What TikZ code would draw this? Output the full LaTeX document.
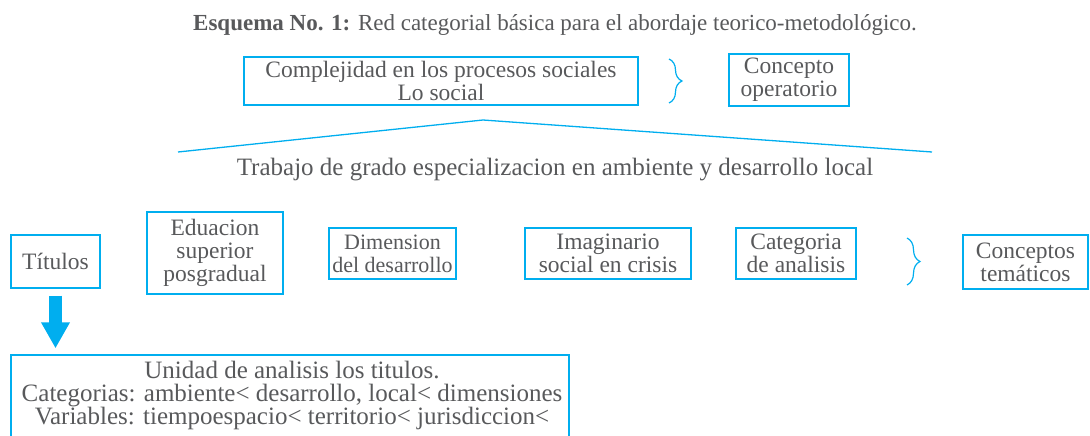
\documentclass[tikz,border=0pt]{standalone}
\usepackage{fontspec}
\setmainfont{Liberation Serif}
\usetikzlibrary{arrows.meta,decorations.pathreplacing}
\definecolor{txtgray}{RGB}{88,89,91}
\definecolor{lineblue}{RGB}{0,174,239}
\tikzset{
  box/.style={draw=lineblue, line width=1.3pt, inner sep=0pt, align=center,
    text=txtgray, font=\fontsize{23.5}{23}\selectfont},
  plain/.style={inner sep=0pt, align=center, text=txtgray, font=\fontsize{23.5}{23}\selectfont},
  curly/.style={draw=lineblue, line width=1.2pt, decorate, decoration={brace, amplitude=13pt, aspect=0.5}},
  roof/.style={draw=lineblue, line width=1.3pt},
  bigarrow/.style={draw=lineblue, line width=13pt, -{Triangle[width=27pt,length=26pt]}}
}
\begin{document}
\begin{tikzpicture}[x=1pt,y=-1pt]
\useasboundingbox (0,0) rectangle (1090,436);
% title
\node[plain, font=\fontsize{23}{24}\selectfont] (title) at (555,25)
  {\textbf{Esquema No. 1:} Red categorial básica para el abordaje teorico-metodológico.};
% top row
\node[box, minimum width=394pt, minimum height=48pt] (comp) at (441,81)
  {Complejidad en los procesos sociales\\Lo social};
\coordinate (b1t) at (669,59);
\coordinate (b1b) at (669,103);
\draw[curly] (b1t) -- (b1b);
\node[box, minimum width=120pt, minimum height=52pt] (oper) at (789,80)
  {Concepto\\operatorio};
% roof
\coordinate (r1) at (178,152);
\coordinate (r2) at (483,120);
\coordinate (r3) at (932,152);
\draw[roof] (r1) -- (r2) -- (r3);
\node[plain, font=\fontsize{25}{25}\selectfont] (trab) at (555,170)
  {Trabajo de grado especializacion en ambiente y desarrollo local};
% middle row
\node[box, minimum width=89pt, minimum height=53pt] (tit) at (55.5,261.5) {Títulos};
\node[box, minimum width=136pt, minimum height=82pt] (edu) at (215,253)
  {Eduacion\\superior\\posgradual};
\node[box, minimum width=127pt, minimum height=51pt, font=\fontsize{22}{23}\selectfont] (dim) at (392.5,253.5)
  {Dimension\\del desarrollo};
\node[box, minimum width=166pt, minimum height=51pt] (ima) at (608,253.5)
  {Imaginario\\social en crisis};
\node[box, minimum width=120pt, minimum height=51pt] (cat) at (796,253.5)
  {Categoria\\de analisis};
\coordinate (b2t) at (907,238);
\coordinate (b2b) at (907,285);
\draw[curly] (b2t) -- (b2b);
\node[box, minimum width=125pt, minimum height=54pt] (conc) at (1025.5,262)
  {Conceptos\\temáticos};
% bottom box
\node[draw=lineblue, line width=1.3pt, inner sep=0pt, minimum width=558pt, minimum height=100pt] (unid) at (290,405) {};
\node[plain, font=\fontsize{25}{23}\selectfont] (unidtxt) at (292,395)
  {Unidad de analisis los titulos.\\Categorias: ambiente< desarrollo, local< dimensiones\\Variables: tiempoespacio< territorio< jurisdiccion<};
% arrow
\draw[bigarrow] ([yshift=-7pt]tit.south) -- ([yshift=6pt]tit.south |- unid.north);
\end{tikzpicture}
\end{document}
